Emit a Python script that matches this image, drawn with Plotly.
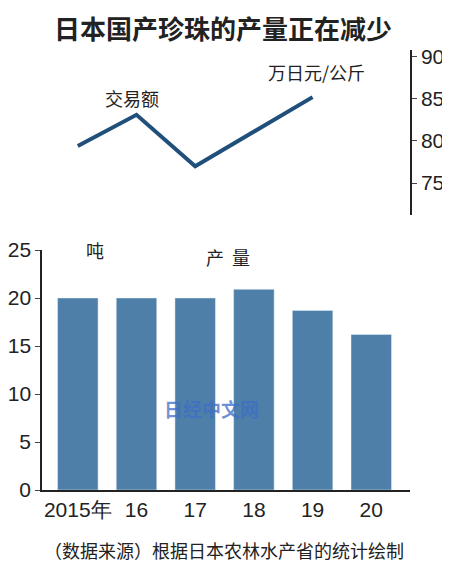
import plotly.graph_objects as go

years = ["2015年", "16", "17", "18", "19", "20"]
output_t = [20.0, 20.0, 20.0, 20.9, 18.7, 16.2]
trade_value = [79.4, 83.1, 77.0, 81.1, 85.2]

# page body has an 8px margin, so work in reference pixels and shift by it
OFF = 8
W, H = 450 - OFF, 570 - OFF
FONT = "Noto Sans CJK SC"
NUM = "Liberation Sans"
x_idx = list(range(len(years)))

fig = go.Figure()
fig.add_bar(x=x_idx, y=output_t, marker_color="#4d7fa8", width=0.69,
            xaxis="x", yaxis="y", showlegend=False)
fig.add_scatter(x=x_idx[:len(trade_value)], y=trade_value, mode="lines",
                line=dict(color="#1f4f7a", width=4), xaxis="x2", yaxis="y2",
                showlegend=False)

def py(px):
    return 1 - (px - OFF) / H

fig.update_layout(
    width=W, height=H, margin=dict(l=42 - OFF, r=450 - 410, t=0, b=0, autoexpand=False),
    paper_bgcolor="white", plot_bgcolor="white",
    font=dict(family=FONT, color="#222", size=18),
    xaxis=dict(domain=[0, 1], range=[-0.61, 5.66], tickvals=x_idx, ticktext=years,
               showline=True, linecolor="#222", linewidth=1.5, ticks="",
               showgrid=False, zeroline=False, anchor="y",
               tickfont=dict(family=NUM, size=21)),
    yaxis=dict(domain=[py(490), py(250)], range=[0, 25], tickvals=[0, 5, 10, 15, 20, 25],
               showline=True, linecolor="#222", linewidth=1.5, ticks="outside",
               ticklen=5, showgrid=False, zeroline=False,
               tickfont=dict(family=NUM, size=21)),
    xaxis2=dict(domain=[0, 1], range=[-0.61, 5.66], visible=False, anchor="y2"),
    yaxis2=dict(domain=[py(215), py(50)], range=[71.2, 90.8], side="right",
                anchor="x2", tickvals=[75, 80, 85, 90], showline=True,
                linecolor="#222", linewidth=1.5, ticks="outside", ticklen=5,
                showgrid=False, zeroline=False,
                tickfont=dict(family=NUM, size=21)),
)

def txt(x, y, s, size=18, color="#222", anchor="center", **kw):
    fig.add_annotation(x=(x - OFF) / W, y=py(y), xref="paper", yref="paper", text=s,
                       showarrow=False, xanchor=anchor, yanchor="middle",
                       font=dict(size=size, color=color, family=FONT), **kw)

txt(225, 27, "<b>日本国产珍珠的产量正在减少</b>", size=26)
txt(116, 98, "交易额", size=18)
txt(338, 72, "万日元/公斤", size=18)
txt(72, 250, "吨", size=18)
txt(232, 257, "产  量", size=18)
txt(226, 550, "（数据来源）根据日本农林水产省的统计绘制", size=18)
txt(212, 408, "<b>日经中文网</b>", size=19, color="rgba(60,110,200,0.75)")

fig.write_html("out.html")
